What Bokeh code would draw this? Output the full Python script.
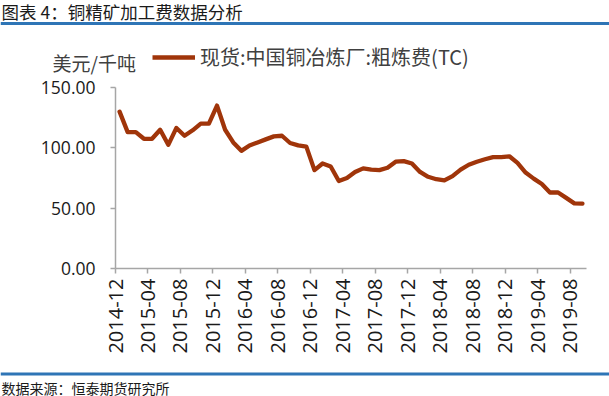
from bokeh.plotting import figure
from bokeh.models import (ColumnDataSource, FixedTicker, Label, Span,
                          Legend, LegendItem, Range1d)
from bokeh.embed import file_html
from bokeh.resources import INLINE
from math import pi

# ---- data -------------------------------------------------------------
months = [
    "2014-12", "2015-01", "2015-02", "2015-03", "2015-04", "2015-05", "2015-06",
    "2015-07", "2015-08", "2015-09", "2015-10", "2015-11", "2015-12", "2016-01",
    "2016-02", "2016-03", "2016-04", "2016-05", "2016-06", "2016-07", "2016-08",
    "2016-09", "2016-10", "2016-11", "2016-12", "2017-01", "2017-02", "2017-03",
    "2017-04", "2017-05", "2017-06", "2017-07", "2017-08", "2017-09", "2017-10",
    "2017-11", "2017-12", "2018-01", "2018-02", "2018-03", "2018-04", "2018-05",
    "2018-06", "2018-07", "2018-08", "2018-09", "2018-10", "2018-11", "2018-12",
    "2019-01", "2019-02", "2019-03", "2019-04", "2019-05", "2019-06", "2019-07",
    "2019-08", "2019-09",
]
tc_values = [
    130.0, 113.0, 113.0, 107.5, 107.5, 115.0, 102.5, 116.5, 110.0, 114.5,
    120.0, 120.0, 135.0, 115.0, 104.5, 97.5, 102.0, 104.5, 107.0, 109.5,
    110.0, 104.0, 102.0, 101.0, 81.5, 87.0, 84.5, 72.5, 75.0, 80.0,
    83.0, 82.0, 81.5, 83.5, 88.5, 89.0, 87.0, 80.0, 76.0, 74.0,
    73.0, 76.5, 82.0, 86.0, 88.5, 90.5, 92.3, 92.3, 93.0, 87.5,
    79.5, 74.5, 70.0, 63.0, 63.0, 58.5, 54.0, 53.7,
]
tick_labels = ["2014-12", "2015-04", "2015-08", "2015-12", "2016-04", "2016-08",
               "2016-12", "2017-04", "2017-08", "2017-12", "2018-04", "2018-08",
               "2018-12", "2019-04", "2019-08"]
y_ticks = [0, 50, 100, 150]
series_name = "现货:中国铜冶炼厂:粗炼费(TC)"
title_text = "图表 4：铜精矿加工费数据分析"
unit_text = "美元/千吨"
source_text = "数据来源：恒泰期货研究所"

# ---- style constants ----------------------------------------------------
W = 609
HEAD_H, MAIN_H, FOOT_H = 75, 287, 34
LINE_COLOR = "#A0350A"
RULE_COLOR = "#2E75B6"
AX = "#A6A6A6"
CJK = "Noto Sans CJK SC"
TICK_FONT = "Open Sans"


def blank_panel(h):
    f = figure(width=W, height=h, output_backend="svg", toolbar_location=None,
               x_range=Range1d(0, W), y_range=Range1d(0, h),
               x_axis_location=None, y_axis_location=None,
               min_border=0, outline_line_color=None,
               background_fill_color="white", border_fill_color="white")
    f.grid.visible = False
    return f


# ---- header: title, rule, unit text, legend ----------------------------
head = blank_panel(HEAD_H)
head.add_layout(Label(x=1, y=HEAD_H - 11, text=title_text, text_font=CJK,
                      text_font_size="17.5px", text_color="#1a1a1a",
                      text_baseline="middle", text_align="left"))
head.add_layout(Span(location=HEAD_H - 23, dimension="width",
                     line_color=RULE_COLOR, line_width=3))
head.add_layout(Label(x=52, y=HEAD_H - 62, text=unit_text, text_font=CJK,
                      text_font_size="19px", text_color="#404040",
                      text_baseline="middle", text_align="left"))
legend_proxy = head.line(x=[float("nan")], y=[float("nan")],
                         line_color=LINE_COLOR, line_width=4.5)
legend = Legend(items=[LegendItem(label=series_name, renderers=[legend_proxy])],
                location=(152, HEAD_H - 58 - 13), orientation="horizontal",
                padding=0, margin=0, border_line_alpha=0,
                background_fill_alpha=0, glyph_width=43, glyph_height=20,
                label_height=20, label_standoff=5, spacing=0,
                label_text_font_size="20px", label_text_font=CJK,
                label_text_color="#404040")
head.add_layout(legend)

# ---- main chart --------------------------------------------------------
month_pos = [i + 0.5 for i in range(len(months))]
tick_pos = [months.index(t) for t in tick_labels]
src = ColumnDataSource(dict(x=month_pos, y=tc_values, m=months))

p = figure(width=W, height=MAIN_H, output_backend="svg", toolbar_location=None,
           x_range=Range1d(0, len(months)), y_range=Range1d(0, 150),
           min_border_left=115, min_border_right=23, min_border_top=12,
           min_border_bottom=94, background_fill_color="white",
           border_fill_color="white", outline_line_color=None)
p.xgrid.visible = False
p.ygrid.visible = False

p.line("x", "y", source=src, line_color=LINE_COLOR, line_width=4.3,
       line_join="round", line_cap="round")

for ax in (p.xaxis[0], p.yaxis[0]):
    ax.axis_line_color = AX
    ax.axis_line_width = 1.5
    ax.major_tick_line_color = AX
    ax.major_tick_line_width = 1.5
    ax.major_tick_out = 5
    ax.major_tick_in = 0
    ax.minor_tick_line_color = None
    ax.major_label_text_color = "#1a1a1a"
    ax.major_label_text_font = TICK_FONT

p.yaxis.ticker = FixedTicker(ticks=y_ticks)
p.yaxis.major_label_overrides = {v: f"{v:.2f}" for v in y_ticks}
p.yaxis.major_label_text_font_size = "17.5px"
p.yaxis.major_label_standoff = 15

p.xaxis.ticker = FixedTicker(ticks=tick_pos)
p.xaxis.major_label_overrides = {pos: lab for pos, lab in zip(tick_pos, tick_labels)}
p.xaxis.major_label_orientation = pi / 2
p.xaxis.major_label_text_font_size = "20px"
p.xaxis.major_label_standoff = 5

# ---- footer: rule and source -------------------------------------------
foot = blank_panel(FOOT_H)
foot.add_layout(Span(location=FOOT_H - 11.5, dimension="width",
                     line_color=RULE_COLOR, line_width=3))
foot.add_layout(Label(x=1, y=FOOT_H - 25, text=source_text, text_font=CJK,
                      text_font_size="14px", text_color="#1a1a1a",
                      text_baseline="middle", text_align="left"))

open("out.html", "w").write(file_html([head, p, foot], INLINE))
